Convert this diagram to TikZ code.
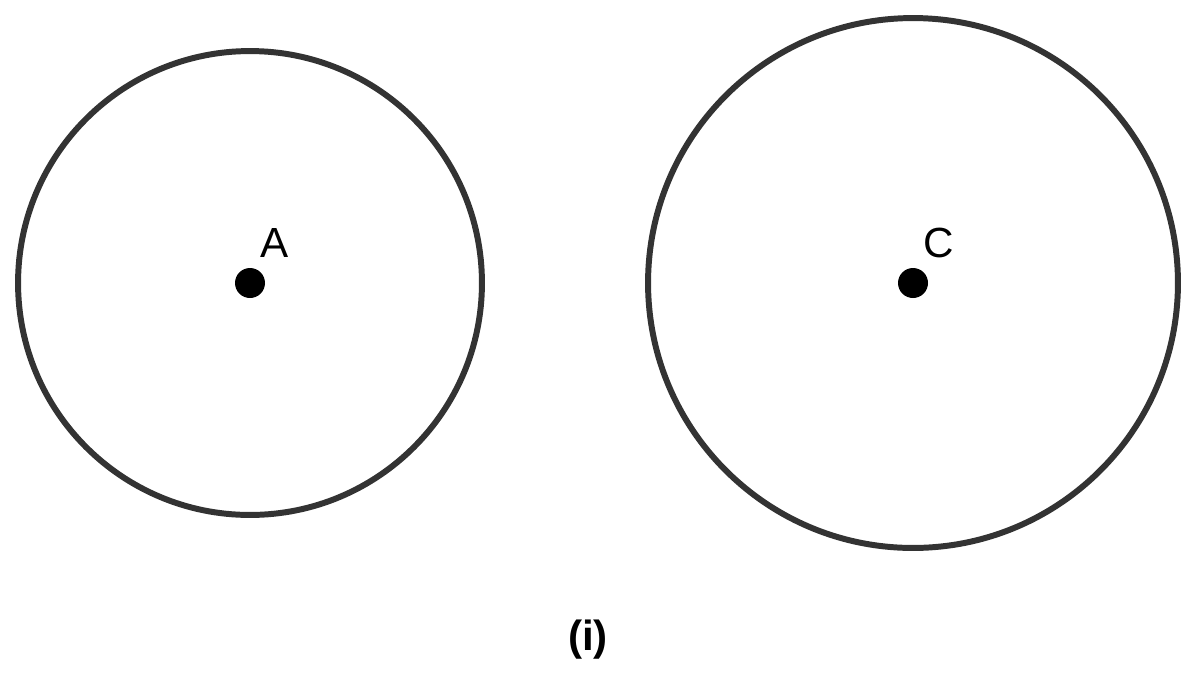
\documentclass[tikz,border=0pt]{standalone}
\usepackage{fontspec}
\setmainfont{Liberation Sans}
\usetikzlibrary{positioning}
\definecolor{ringgray}{HTML}{333333}
\tikzset{
  ring/.style={
      circle,
      inner sep=0pt,
      line width=3.4pt,
      draw=ringgray
  },
  centre/.style={
      circle,
      inner sep=0pt,
      minimum size=0.6cm,
      fill=black
  },
  tag/.style={
      anchor=base,
      inner sep=0pt,
      font=\fontsize{24}{28}\selectfont
  }
}
\begin{document}
\begin{tikzpicture}[x=0.02cm,y=-0.02cm]
    \useasboundingbox (0,0) rectangle (1200,674);
    \node[ring, minimum size=9.28cm] (circA) at (250,283) {};
    \node[ring, minimum size=10.6cm] (circC) at (913,283) {};
    \node[centre] (A) at (circA.center) {};
    \node[centre] (C) at (circC.center) {};
    \node[tag] (labA) at (274.5,257) {A};
    \node[tag] (labC) at (939,257) {C};
    \node[tag, anchor=center, font=\fontsize{24}{28}\selectfont\bfseries] (caption) at (588,640) {(i)};
  \end{tikzpicture}
\end{document}
